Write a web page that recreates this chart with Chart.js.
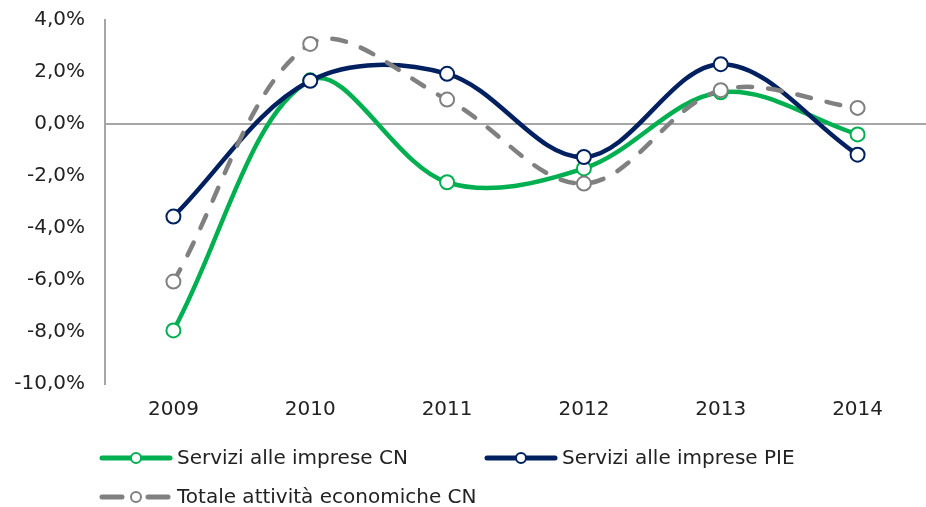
<!DOCTYPE html>
<html>
<head>
<meta charset="utf-8">
<script src="https://cdn.jsdelivr.net/npm/chart.js@4"></script>
<style>
  html, body { margin: 0; padding: 0; background: #fff; overflow: hidden; }
  #wrap { width: 926px; height: 507px; overflow: hidden; }
</style>
</head>
<body>
<div id="wrap"><canvas id="data-chart" width="935" height="507"></canvas></div>
<script>
const ctx = document.getElementById("data-chart").getContext("2d");

const years = ["2009", "2010", "2011", "2012", "2013", "2014"];
const servizi_cn = [-7.94, 1.68, -2.24, -1.71, 1.22, -0.40];
const servizi_pie = [-3.56, 1.66, 1.93, -1.27, 2.30, -1.18];
const totale_cn = [-6.06, 3.08, 0.94, -2.29, 1.30, 0.62];
const y_ticks = [-10, -8, -6, -4, -2, 0, 2, 4];

const font_name = "'DejaVu Sans', Verdana, sans-serif";
const text_color = "#222222";
const axis_color = "#a6a6a6";

// legend spots, Excel style: line with the marker in the middle
const legend_spots = [
    { x: 100, y: 458 },
    { x: 485, y: 458 },
    { x: 100, y: 497 }
];

const line_legend = {
    id: "lineLegend",
    afterDraw(chart) {
        const c = chart.ctx;
        c.save();
        chart.data.datasets.forEach((ds, i) => {
            const spot = legend_spots[i];
            c.lineWidth = 5;
            c.lineCap = "round";
            c.strokeStyle = ds.borderColor;
            c.setLineDash(ds.borderDash ? [20, 26] : []);
            c.beginPath();
            c.moveTo(spot.x + 2, spot.y);
            c.lineTo(spot.x + 70, spot.y);
            c.stroke();
            c.setLineDash([]);
            c.beginPath();
            c.arc(spot.x + 36, spot.y, 5, 0, Math.PI * 2);
            c.fillStyle = "#ffffff";
            c.fill();
            c.lineWidth = 2;
            c.stroke();
            c.fillStyle = text_color;
            c.font = "20px " + font_name;
            c.textAlign = "left";
            c.textBaseline = "middle";
            c.fillText(ds.label, spot.x + 77, spot.y + 1);
        });
        c.restore();
    }
};

const make_set = (label, values, color, order, dash) => ({
    label: label,
    data: values,
    borderColor: color,
    backgroundColor: color,
    borderWidth: 4.5,
    borderDash: dash,
    borderCapStyle: "round",
    tension: 0.35,
    pointRadius: 7,
    pointBorderWidth: 2,
    pointBackgroundColor: "#ffffff",
    pointBorderColor: color,
    order: order
});

const data = {
    labels: years,
    datasets: [
        make_set("Servizi alle imprese CN", servizi_cn, "#00b050", 3, undefined),
        make_set("Servizi alle imprese PIE", servizi_pie, "#002060", 2, undefined),
        make_set("Totale attività economiche CN", totale_cn, "#808080", 1, [14, 16])
    ]
};

const config = {
    type: "line",
    data: data,
    plugins: [line_legend],
    options: {
        responsive: false,
        animation: false,
        layout: {
            padding: { top: 20, left: 14, right: 0, bottom: 71 }
        },
        plugins: {
            legend: { display: false },
            tooltip: { enabled: false }
        },
        scales: {
            y: {
                min: -10,
                max: 4,
                afterBuildTicks: (axis) => {
                    axis.ticks = y_ticks.map(v => ({ value: v }));
                },
                afterFit: (axis) => {
                    axis.width = 91;
                    axis.paddingTop = 0;
                    axis.paddingBottom = 0;
                },
                grid: {
                    drawTicks: false,
                    lineWidth: 2,
                    color: (c) => c.tick && c.tick.value === 0 ? axis_color : "rgba(0,0,0,0)"
                },
                border: {
                    display: true,
                    color: axis_color,
                    width: 2
                },
                ticks: {
                    padding: 20,
                    color: text_color,
                    font: { family: font_name, size: 20 },
                    callback: (v) => v.toFixed(1).replace(".", ",") + "%"
                }
            },
            x: {
                offset: true,
                grid: { display: false, drawTicks: false },
                border: { display: false },
                ticks: {
                    padding: 14,
                    color: text_color,
                    font: { family: font_name, size: 20 }
                }
            }
        }
    }
};

const servizi_chart = new Chart(ctx, config);
</script>
</body>
</html>
